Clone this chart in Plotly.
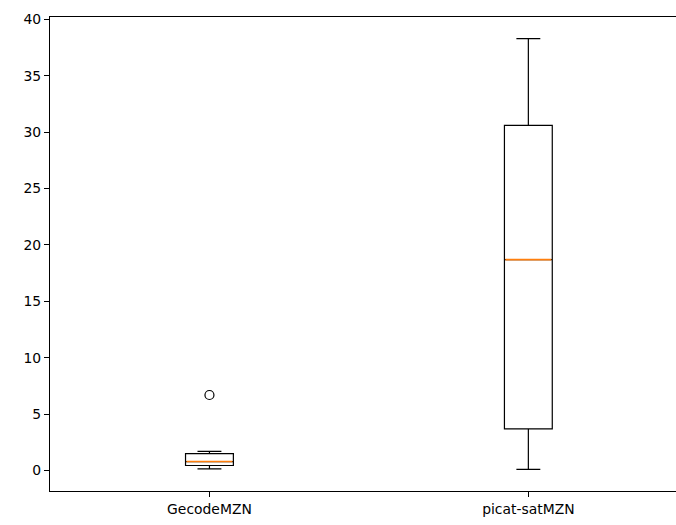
import plotly.graph_objects as go

# Data
categories = ["GecodeMZN", "picat-satMZN"]
positions = [1, 2]
lower_whisker = [0.15, 0.10]
q1_vals = [0.45, 3.7]
medians = [0.8, 18.7]
q3_vals = [1.5, 30.6]
upper_whisker = [1.7, 38.3]
outlier_pos = [1]
outlier_vals = [6.7]

box_width = 0.15

fig = go.Figure()
for i, cat in enumerate(categories):
    fig.add_trace(go.Box(
        x=[positions[i]], q1=[q1_vals[i]], median=[medians[i]], q3=[q3_vals[i]],
        lowerfence=[lower_whisker[i]], upperfence=[upper_whisker[i]],
        width=box_width, whiskerwidth=0.5,
        line=dict(color="black", width=1.2),
        fillcolor="rgba(0,0,0,0)", boxpoints=False, showlegend=False, name=cat,
        hoverinfo="skip",
    ))

for i, cat in enumerate(categories):
    fig.add_trace(go.Scatter(
        x=[positions[i] - box_width / 2 + 0.003, positions[i] + box_width / 2 - 0.003],
        y=[medians[i], medians[i]], mode="lines",
        line=dict(color="#ff7f0e", width=1.6), showlegend=False, hoverinfo="skip",
    ))

fig.add_trace(go.Scatter(
    x=outlier_pos, y=outlier_vals, mode="markers",
    marker=dict(symbol="circle-open", size=9, color="black", line=dict(width=1.2)),
    showlegend=False, hoverinfo="skip",
))

all_vals = lower_whisker + upper_whisker + outlier_vals
lo, hi = min(all_vals), max(all_vals)
pad = 0.05 * (hi - lo)

fig.update_layout(
    width=676, height=525,
    margin=dict(l=50, r=0, t=17, b=34),
    paper_bgcolor="white", plot_bgcolor="white",
    showlegend=False,
    font=dict(family="DejaVu Sans", size=13.9, color="black"),
    xaxis=dict(
        range=[0.5, 2.463], tickvals=positions, ticktext=categories,
        showline=True, linecolor="black", linewidth=1.2, mirror=True,
        ticks="outside", ticklen=5, tickcolor="black", tickwidth=1.2,
        showgrid=False, zeroline=False,
    ),
    yaxis=dict(
        range=[lo - pad, hi + pad], tickvals=[0, 5, 10, 15, 20, 25, 30, 35, 40],
        showline=True, linecolor="black", linewidth=1.2,
        ticks="outside", ticklen=5, tickcolor="black", tickwidth=1.2,
        showgrid=False, zeroline=False,
    ),
)

fig.write_html("out.html")
